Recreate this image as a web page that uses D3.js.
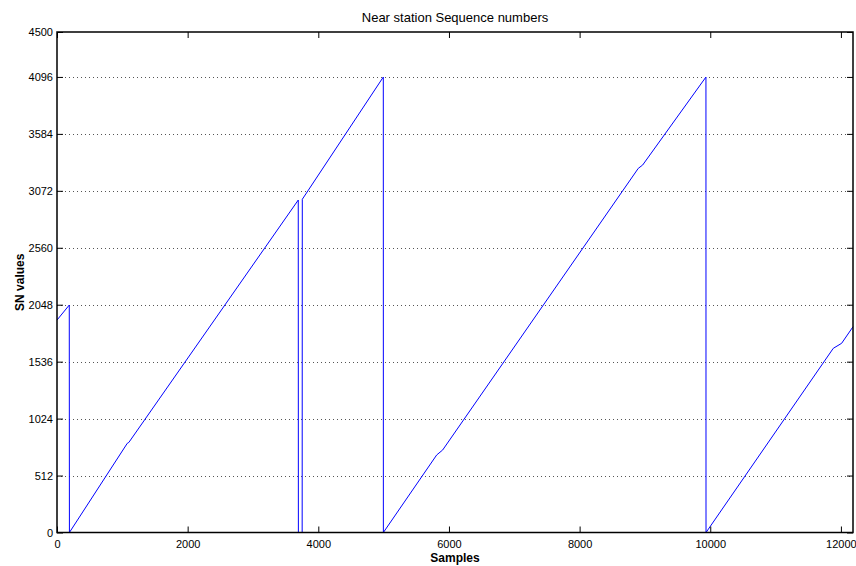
<!DOCTYPE html>
<html>
<head>
<meta charset="utf-8">
<script src="https://d3js.org/d3.v7.min.js"></script>
<style>
  html, body { margin: 0; padding: 0; background: #fff; }
  svg { display: block; }
  text { font-family: "Liberation Sans", Arial, Helvetica, sans-serif; fill: #000; }
</style>
</head>
<body>
<svg id="chart" width="856" height="566"></svg>
<script>
// Breakpoints of the sequence-number trace (sample index, SN value)
const sampleIdx = [0, 188, 190, 1076, 1100, 3693, 3695, 3753, 3755, 4995, 4996, 5812, 5904, 8898, 8965, 9934, 9935, 11883, 12011, 12185];
const snValue   = [1910, 2045, 0, 802, 810, 2989, 0, 0, 2996, 4095, 0, 697, 742, 3274, 3304, 4095, 0, 1656, 1701, 1850];

const xTicks = [0, 2000, 4000, 6000, 8000, 10000, 12000];
const yTicks = [0, 512, 1024, 1536, 2048, 2560, 3072, 3584, 4096, 4500];
const xDomain = [0, 12185];
const yDomain = [0, 4500];

const titleText = "Near station Sequence numbers";
const xLabelText = "Samples";
const yLabelText = "SN values";

const svg = d3.select("#chart");
const m = { left: 57, right: 853, top: 32, bottom: 532.5 };

const x = d3.scaleLinear().domain(xDomain).range([m.left, m.right]);
const y = d3.scaleLinear().domain(yDomain).range([m.bottom, m.top]);

// horizontal dotted grid
svg.append("g")
  .selectAll("line")
  .data(yTicks.filter(v => v > 0 && v < 4500))
  .join("line")
  .attr("x1", m.left).attr("x2", m.right)
  .attr("y1", d => Math.round(y(d)) + 0.5).attr("y2", d => Math.round(y(d)) + 0.5)
  .attr("stroke", "#555").attr("stroke-width", 1)
  .attr("stroke-dasharray", "1,3");

// trace
const pts = sampleIdx.map((s, i) => [s, snValue[i]]);
svg.append("path")
  .datum(pts)
  .attr("fill", "none")
  .attr("stroke", "#0000ff")
  .attr("stroke-width", 1)
  .attr("d", d3.line().x(d => x(d[0])).y(d => y(d[1])));

// axes with inward ticks on all four sides
const tickLen = 6;
const axB = svg.append("g").attr("transform", `translate(0,${m.bottom})`)
  .call(d3.axisBottom(x).tickValues(xTicks).tickFormat(d3.format("d")).tickSizeInner(-tickLen).tickSizeOuter(0).tickPadding(8));
const axT = svg.append("g").attr("transform", `translate(0,${m.top})`)
  .call(d3.axisTop(x).tickValues(xTicks).tickFormat("").tickSizeInner(-tickLen).tickSizeOuter(0));
const axL = svg.append("g").attr("transform", `translate(${m.left},0)`)
  .call(d3.axisLeft(y).tickValues(yTicks).tickFormat(d3.format("d")).tickSizeInner(-tickLen).tickSizeOuter(0).tickPadding(4));
const axR = svg.append("g").attr("transform", `translate(${m.right},0)`)
  .call(d3.axisRight(y).tickValues(yTicks).tickFormat("").tickSizeInner(-tickLen).tickSizeOuter(0));

[axB, axT, axL, axR].forEach(a => {
  a.select(".domain").remove();
  a.selectAll("line").attr("stroke", "#000");
  a.selectAll("text").attr("font-size", 11).attr("font-family", "Liberation Sans, Arial, sans-serif").attr("fill", "#000");
});

// box
svg.append("rect")
  .attr("x", m.left).attr("y", m.top)
  .attr("width", m.right - m.left).attr("height", m.bottom - m.top)
  .attr("fill", "none").attr("stroke", "#000").attr("stroke-width", 1.5);

// title and axis labels
svg.append("text")
  .attr("x", (m.left + m.right) / 2).attr("y", 22)
  .attr("text-anchor", "middle").attr("font-size", 13)
  .text(titleText);

svg.append("text")
  .attr("x", (m.left + m.right) / 2).attr("y", 562)
  .attr("text-anchor", "middle").attr("font-size", 12).attr("font-weight", "bold")
  .text(xLabelText);

svg.append("text")
  .attr("transform", `translate(24,${(m.top + m.bottom) / 2}) rotate(-90)`)
  .attr("text-anchor", "middle").attr("font-size", 12).attr("font-weight", "bold")
  .text(yLabelText);
</script>
</body>
</html>
